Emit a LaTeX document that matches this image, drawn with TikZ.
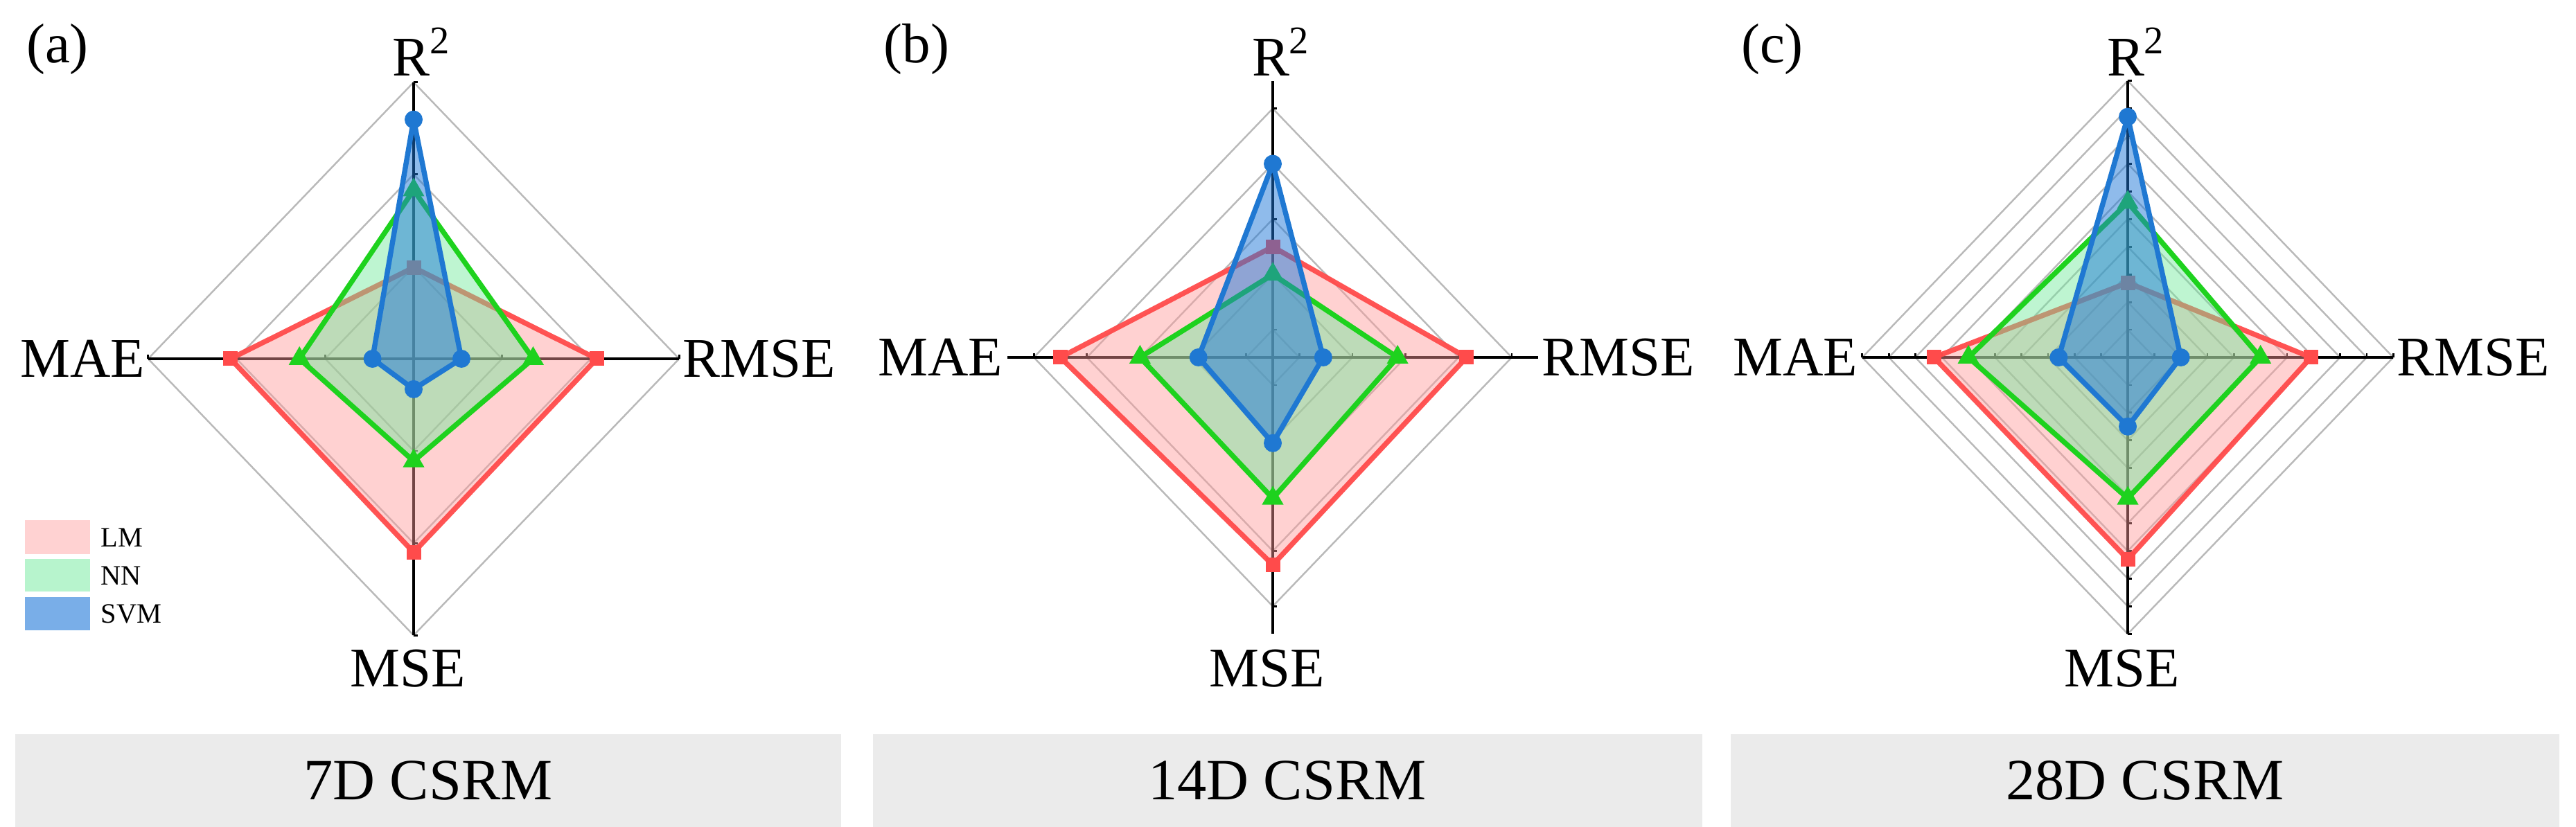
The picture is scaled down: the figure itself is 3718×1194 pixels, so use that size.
\documentclass[tikz,border=0pt]{standalone}
\usepackage{fontspec}
\setmainfont{Liberation Serif}
\usetikzlibrary{shapes.geometric}
\definecolor{lmline}{HTML}{FF4B4B}
\definecolor{lmfill}{HTML}{FF9A9A}
\definecolor{nnline}{HTML}{1ED21E}
\definecolor{nnfill}{HTML}{6EE89A}
\definecolor{svline}{HTML}{1F78D2}
\definecolor{svfill}{HTML}{1F78D8}
\definecolor{barfill}{HTML}{EBEBEB}
\tikzset{
  grid/.style={draw=gray!55, line width=0.7pt},
  ax/.style={draw=black, line width=1.1pt},
  lm/.style={draw=lmline, fill=lmfill, fill opacity=0.45, draw opacity=0.95, line width=2.1pt, line join=round},
  nn/.style={draw=nnline, fill=nnfill, fill opacity=0.45, line width=2.1pt, line join=round},
  sv/.style={draw=svline, fill=svfill, fill opacity=0.5, line width=2.1pt, line join=round},
  lmm/.style={rectangle, fill=lmline, inner sep=0pt, minimum size=0.21cm},
  nnm/.style={regular polygon, regular polygon sides=3, fill=nnline, inner sep=0pt, minimum size=0.36cm},
  svm/.style={circle, fill=svline, inner sep=0pt, minimum size=0.26cm},
  axlab/.style={font=\fontsize{23}{23}\selectfont, inner sep=0pt},
  tag/.style={font=\fontsize{23}{23}\selectfont, inner sep=0pt},
  bar/.style={fill=barfill, draw=none},
  bartxt/.style={font=\fontsize{24}{24}\selectfont},
  legtxt/.style={font=\fontsize{11.5}{11.5}\selectfont, anchor=west, inner sep=0pt}
}
\newcommand\mypoly[6]{%
  \draw[#1] (0,#3) -- (#4,0) -- (0,-#5) -- (-#6,0) -- cycle;
  \node[#2] at (0,#3) {}; \node[#2] at (#4,0) {};
  \node[#2] at (0,-#5) {}; \node[#2] at (-#6,0) {};}
\newcommand\myaxes[2]{%
  \foreach \r in {#1} {\draw[grid] (0,\r) -- (\r,0) -- (0,-\r) -- (-\r,0) -- cycle;}
  \draw[ax] (-#2,0) -- (#2,0); \draw[ax] (0,-#2) -- (0,#2);
  \foreach \r in {#1} {\draw[ax,line width=0.8pt] (\r,0) -- (\r,0.015) (-\r,0) -- (-\r,0.015)
     (0,\r) -- (0.015,\r) (0,-\r) -- (0.015,-\r);}}
\begin{document}
\begin{tikzpicture}[x=0.01cm,y=0.01cm]
\useasboundingbox (0,0) rectangle (3718,1194);
% bars
\fill[bar] (22,0) rectangle (1214,134);
\fill[bar] (1260,0) rectangle (2457,134);
\fill[bar] (2498,0) rectangle (3694,134);
\node[bartxt] (ta) at (618,67) {7D CSRM};
\node[bartxt] (tb) at (1858,67) {14D CSRM};
\node[bartxt] (tc) at (3096,67) {28D CSRM};
% panel a
\begin{scope}[shift={(597,676)}, x=3.83cm, y=3.99cm]
  \myaxes{0.333,0.667,1}{1}
  \mypoly{lm}{lmm}{0.33}{0.69}{0.70}{0.69}
  \mypoly{nn}{nnm}{0.61}{0.45}{0.37}{0.43}
  \mypoly{sv}{svm}{0.865}{0.18}{0.11}{0.155}
\end{scope}
\node[tag] (la) at (83,1123) {(a)};
\node[axlab] (r2a) at (609,1119) {R$^{\mathrm{2}}$};
\node[axlab,anchor=east] (maea) at (210,676) {MAE};
\node[axlab,anchor=west] (rmsea) at (985,676) {RMSE};
\node[axlab] (msea) at (589,229) {MSE};
% legend
\fill[lmfill!45] (36,394) rectangle (130,443);
\fill[nnfill!50] (36,340) rectangle (130,387);
\fill[svfill!60] (36,284) rectangle (130,332);
\node[legtxt] (llm) at (145,418) {LM};
\node[legtxt] (lnn) at (145,363) {NN};
\node[legtxt] (lsv) at (145,308) {SVM};
% panel b
\begin{scope}[shift={(1837,678)}, x=3.83cm, y=3.99cm]
  \myaxes{0.1,0.3,0.5,0.7,0.9}{1}
  \mypoly{lm}{lmm}{0.40}{0.73}{0.75}{0.80}
  \mypoly{nn}{nnm}{0.30}{0.47}{0.51}{0.50}
  \mypoly{sv}{svm}{0.70}{0.19}{0.31}{0.28}
\end{scope}
\node[tag] (lb) at (1323,1123) {(b)};
\node[axlab] (r2b) at (1849,1119) {R$^{\mathrm{2}}$};
\node[axlab,anchor=east] (maeb) at (1448,678) {MAE};
\node[axlab,anchor=west] (rmseb) at (2225,678) {RMSE};
\node[axlab] (mseb) at (1829,229) {MSE};
% panel c
\begin{scope}[shift={(3071,678)}, x=3.83cm, y=3.99cm]
  \myaxes{0.1,0.2,0.3,0.4,0.5,0.6,0.7,0.8,0.9,1}{1}
  \mypoly{lm}{lmm}{0.27}{0.69}{0.73}{0.73}
  \mypoly{nn}{nnm}{0.56}{0.50}{0.51}{0.60}
  \mypoly{sv}{svm}{0.87}{0.20}{0.25}{0.26}
\end{scope}
\node[tag] (lc) at (2558,1123) {(c)};
\node[axlab] (r2c) at (3083,1119) {R$^{\mathrm{2}}$};
\node[axlab,anchor=east] (maec) at (2682,678) {MAE};
\node[axlab,anchor=west] (rmsec) at (3459,678) {RMSE};
\node[axlab] (msec) at (3063,229) {MSE};
\end{tikzpicture}
\end{document}
